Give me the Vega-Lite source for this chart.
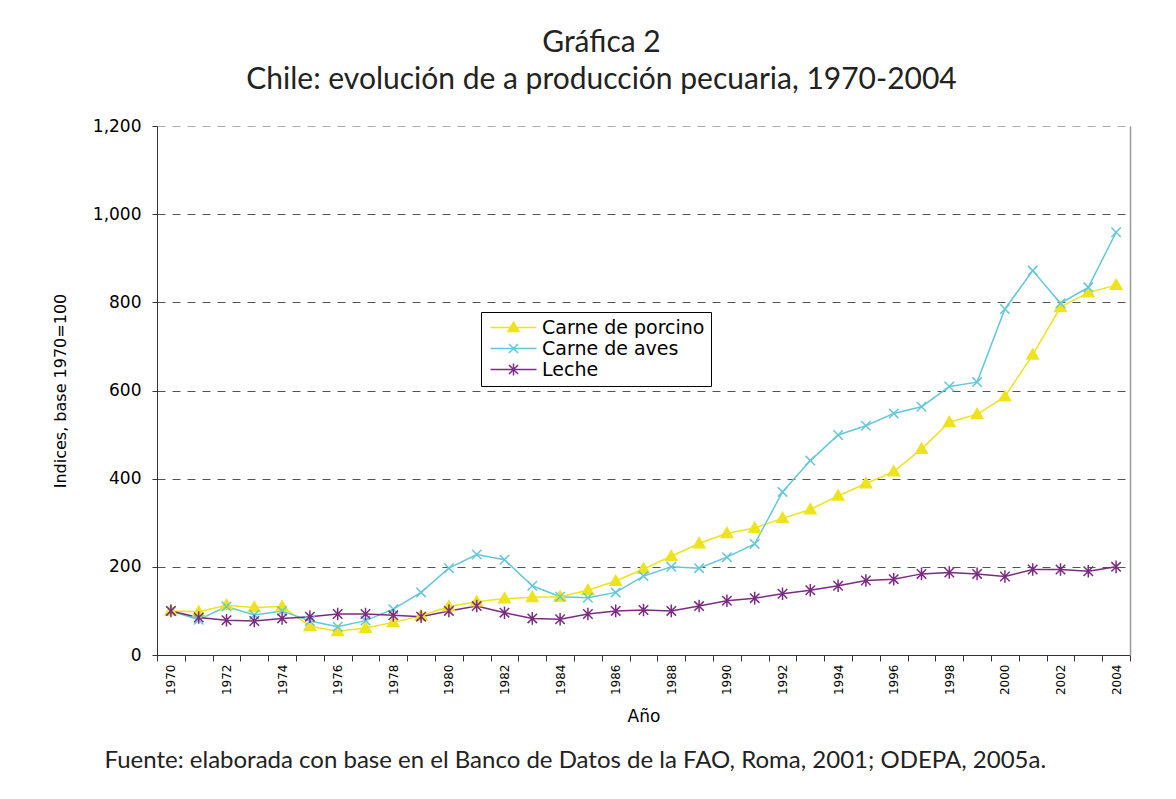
{
  "$schema": "https://vega.github.io/schema/vega-lite/v6.json",
  "autosize": {"type": "none"},
  "padding": {"left": 157, "top": 126, "right": 46, "bottom": 144},
  "width": 973,
  "height": 529,
  "background": "white",
  "config": {"font": "DejaVu Sans", "view": {"stroke": null}},
  "title": {
    "text": ["Gráfica 2", "Chile: evolución de a producción pecuaria, 1970-2004"],
    "font": "Lato", "fontSize": 30, "fontWeight": "normal", "color": "#222",
    "lineHeight": 37, "anchor": "middle", "dx": -42, "offset": 22
  },
  "data": {
    "values": [
      {"year": 1970, "serie": "Carne de porcino", "value": 100},
      {"year": 1971, "serie": "Carne de porcino", "value": 98},
      {"year": 1972, "serie": "Carne de porcino", "value": 113},
      {"year": 1973, "serie": "Carne de porcino", "value": 108},
      {"year": 1974, "serie": "Carne de porcino", "value": 110},
      {"year": 1975, "serie": "Carne de porcino", "value": 65},
      {"year": 1976, "serie": "Carne de porcino", "value": 54},
      {"year": 1977, "serie": "Carne de porcino", "value": 61},
      {"year": 1978, "serie": "Carne de porcino", "value": 74},
      {"year": 1979, "serie": "Carne de porcino", "value": 89},
      {"year": 1980, "serie": "Carne de porcino", "value": 110},
      {"year": 1981, "serie": "Carne de porcino", "value": 121},
      {"year": 1982, "serie": "Carne de porcino", "value": 128},
      {"year": 1983, "serie": "Carne de porcino", "value": 131},
      {"year": 1984, "serie": "Carne de porcino", "value": 132},
      {"year": 1985, "serie": "Carne de porcino", "value": 147},
      {"year": 1986, "serie": "Carne de porcino", "value": 168},
      {"year": 1987, "serie": "Carne de porcino", "value": 195},
      {"year": 1988, "serie": "Carne de porcino", "value": 224},
      {"year": 1989, "serie": "Carne de porcino", "value": 253},
      {"year": 1990, "serie": "Carne de porcino", "value": 276},
      {"year": 1991, "serie": "Carne de porcino", "value": 288},
      {"year": 1992, "serie": "Carne de porcino", "value": 310},
      {"year": 1993, "serie": "Carne de porcino", "value": 330},
      {"year": 1994, "serie": "Carne de porcino", "value": 361},
      {"year": 1995, "serie": "Carne de porcino", "value": 389},
      {"year": 1996, "serie": "Carne de porcino", "value": 416},
      {"year": 1997, "serie": "Carne de porcino", "value": 467},
      {"year": 1998, "serie": "Carne de porcino", "value": 528},
      {"year": 1999, "serie": "Carne de porcino", "value": 546},
      {"year": 2000, "serie": "Carne de porcino", "value": 586},
      {"year": 2001, "serie": "Carne de porcino", "value": 681},
      {"year": 2002, "serie": "Carne de porcino", "value": 789},
      {"year": 2003, "serie": "Carne de porcino", "value": 822},
      {"year": 2004, "serie": "Carne de porcino", "value": 839},
      {"year": 1970, "serie": "Carne de aves", "value": 100},
      {"year": 1971, "serie": "Carne de aves", "value": 80},
      {"year": 1972, "serie": "Carne de aves", "value": 110},
      {"year": 1973, "serie": "Carne de aves", "value": 91},
      {"year": 1974, "serie": "Carne de aves", "value": 100},
      {"year": 1975, "serie": "Carne de aves", "value": 77},
      {"year": 1976, "serie": "Carne de aves", "value": 64},
      {"year": 1977, "serie": "Carne de aves", "value": 78},
      {"year": 1978, "serie": "Carne de aves", "value": 104},
      {"year": 1979, "serie": "Carne de aves", "value": 142},
      {"year": 1980, "serie": "Carne de aves", "value": 197},
      {"year": 1981, "serie": "Carne de aves", "value": 228},
      {"year": 1982, "serie": "Carne de aves", "value": 216},
      {"year": 1983, "serie": "Carne de aves", "value": 157},
      {"year": 1984, "serie": "Carne de aves", "value": 132},
      {"year": 1985, "serie": "Carne de aves", "value": 130},
      {"year": 1986, "serie": "Carne de aves", "value": 142},
      {"year": 1987, "serie": "Carne de aves", "value": 179},
      {"year": 1988, "serie": "Carne de aves", "value": 200},
      {"year": 1989, "serie": "Carne de aves", "value": 197},
      {"year": 1990, "serie": "Carne de aves", "value": 222},
      {"year": 1991, "serie": "Carne de aves", "value": 252},
      {"year": 1992, "serie": "Carne de aves", "value": 370},
      {"year": 1993, "serie": "Carne de aves", "value": 441},
      {"year": 1994, "serie": "Carne de aves", "value": 499},
      {"year": 1995, "serie": "Carne de aves", "value": 520},
      {"year": 1996, "serie": "Carne de aves", "value": 548},
      {"year": 1997, "serie": "Carne de aves", "value": 563},
      {"year": 1998, "serie": "Carne de aves", "value": 609},
      {"year": 1999, "serie": "Carne de aves", "value": 619},
      {"year": 2000, "serie": "Carne de aves", "value": 785},
      {"year": 2001, "serie": "Carne de aves", "value": 872},
      {"year": 2002, "serie": "Carne de aves", "value": 798},
      {"year": 2003, "serie": "Carne de aves", "value": 834},
      {"year": 2004, "serie": "Carne de aves", "value": 959},
      {"year": 1970, "serie": "Leche", "value": 100},
      {"year": 1971, "serie": "Leche", "value": 85},
      {"year": 1972, "serie": "Leche", "value": 79},
      {"year": 1973, "serie": "Leche", "value": 77},
      {"year": 1974, "serie": "Leche", "value": 83},
      {"year": 1975, "serie": "Leche", "value": 87},
      {"year": 1976, "serie": "Leche", "value": 93},
      {"year": 1977, "serie": "Leche", "value": 93},
      {"year": 1978, "serie": "Leche", "value": 90},
      {"year": 1979, "serie": "Leche", "value": 87},
      {"year": 1980, "serie": "Leche", "value": 100},
      {"year": 1981, "serie": "Leche", "value": 111},
      {"year": 1982, "serie": "Leche", "value": 96},
      {"year": 1983, "serie": "Leche", "value": 83},
      {"year": 1984, "serie": "Leche", "value": 81},
      {"year": 1985, "serie": "Leche", "value": 93},
      {"year": 1986, "serie": "Leche", "value": 100},
      {"year": 1987, "serie": "Leche", "value": 102},
      {"year": 1988, "serie": "Leche", "value": 100},
      {"year": 1989, "serie": "Leche", "value": 111},
      {"year": 1990, "serie": "Leche", "value": 123},
      {"year": 1991, "serie": "Leche", "value": 129},
      {"year": 1992, "serie": "Leche", "value": 139},
      {"year": 1993, "serie": "Leche", "value": 147},
      {"year": 1994, "serie": "Leche", "value": 157},
      {"year": 1995, "serie": "Leche", "value": 169},
      {"year": 1996, "serie": "Leche", "value": 172},
      {"year": 1997, "serie": "Leche", "value": 184},
      {"year": 1998, "serie": "Leche", "value": 187},
      {"year": 1999, "serie": "Leche", "value": 184},
      {"year": 2000, "serie": "Leche", "value": 178},
      {"year": 2001, "serie": "Leche", "value": 194},
      {"year": 2002, "serie": "Leche", "value": 194},
      {"year": 2003, "serie": "Leche", "value": 190},
      {"year": 2004, "serie": "Leche", "value": 200}
    ]
  },
  "layer": [
    {
      "mark": {"type": "line", "strokeWidth": 1.5},
      "encoding": {
        "x": {
          "field": "year", "type": "ordinal", "bandPosition": 0.5,
          "scale": {"type": "band", "paddingInner": 0, "paddingOuter": 0},
          "axis": {
            "title": "Año", "tickBand": "extent", "labelAngle": 270, "labelOverlap": false,
            "labelExpr": "datum.value % 2 === 0 ? datum.label : ''",
            "labelFont": "DejaVu Sans", "labelFontSize": 12, "labelColor": "#000", "labelPadding": 3,
            "tickSize": 6, "tickColor": "#333", "domainColor": "#333", "grid": false,
            "titleFont": "DejaVu Sans", "titleFontSize": 17, "titleFontWeight": "normal",
            "titleColor": "#000", "titlePadding": 14
          }
        },
        "y": {
          "field": "value", "type": "quantitative",
          "scale": {"domain": [0, 1200]},
          "axis": {
            "title": "Indices, base 1970=100",
            "values": [0, 200, 400, 600, 800, 1000, 1200], "format": ",d",
            "labelFont": "DejaVu Sans", "labelFontSize": 17, "labelColor": "#000", "labelPadding": 11,
            "tickSize": 5, "tickColor": "#333", "domainColor": "#333",
            "grid": true, "gridDash": [8, 7], "gridWidth": 1,
            "gridColor": {"condition": {"test": "datum.value === 1200", "value": "#aaa"}, "value": "#555"},
            "titleFont": "DejaVu Sans", "titleFontSize": 16, "titleFontWeight": "normal",
            "titleColor": "#000", "titlePadding": 24
          }
        },
        "stroke": {
          "field": "serie", "type": "nominal",
          "scale": {
            "domain": ["Carne de porcino", "Carne de aves", "Leche", " "],
            "range": ["#EEE31C", "#63C7DA", "#7B2C82", "#000000"]
          },
          "legend": {
            "title": null, "orient": "none", "legendX": 324, "legendY": 186,
            "values": ["Carne de porcino", "Carne de aves", "Leche"],
            "strokeColor": "#000", "padding": 6,
            "labelFont": "DejaVu Sans", "labelFontSize": 19, "labelColor": "#000", "labelLimit": 400,
            "symbolType": "M-4.6,0L4.6,0", "symbolSize": 100, "symbolStrokeWidth": 1.5,
            "symbolOffset": 17, "labelOffset": 19, "rowPadding": 1
          }
        }
      }
    },
    {
      "mark": {"type": "point", "filled": false, "strokeWidth": 1.5, "opacity": 1, "size": 110},
      "encoding": {
        "x": {
          "field": "year", "type": "ordinal", "bandPosition": 0.5,
          "scale": {"type": "band", "paddingInner": 0, "paddingOuter": 0},
          "axis": {
            "orient": "bottom", "labels": false, "ticks": false, "domain": false, "grid": false,
            "title": "Fuente: elaborada con base en el Banco de Datos de la FAO, Roma, 2001; ODEPA, 2005a.",
            "titleFont": "Lato", "titleFontSize": 24, "titleFontWeight": "normal", "titleColor": "#222",
            "titleAnchor": "start", "titleAlign": "left", "titleBaseline": "alphabetic",
            "titleX": -53, "titleY": 112
          }
        },
        "y": {
          "field": "value", "type": "quantitative",
          "scale": {"domain": [0, 1200]},
          "axis": {
            "orient": "right", "labels": false, "ticks": false, "grid": false, "title": null,
            "domainColor": "#999", "domainWidth": 1.5
          }
        },
        "color": {
          "field": "serie", "type": "nominal",
          "scale": {
            "domain": ["Carne de porcino", "Carne de aves", "Leche"],
            "range": ["#EEE31C", "#63C7DA", "#7B2C82"]
          },
          "legend": {
            "title": null, "orient": "none", "legendX": 324, "legendY": 186,
            "padding": 6, "labelExpr": "''", "labelFont": "DejaVu Sans", "labelFontSize": 19,
            "symbolSize": 100, "symbolStrokeWidth": 1.5, "symbolOffset": 17, "labelOffset": 19,
            "rowPadding": 1
          }
        },
        "shape": {
          "field": "serie", "type": "nominal", "legend": null,
          "scale": {
            "domain": ["Carne de porcino", "Carne de aves", "Leche"],
            "range": ["M-1.1,0.8L1.1,0.8L0,-1.1Z", "M-0.9,-0.9L0.9,0.9M-0.9,0.9L0.9,-0.9", "M-0.9,-0.9L0.9,0.9M-0.9,0.9L0.9,-0.9M0,-1.2L0,1.2"]
          }
        },
        "fill": {
          "field": "serie", "type": "nominal", "legend": null,
          "scale": {
            "domain": ["Carne de porcino", "Carne de aves", "Leche"],
            "range": ["#EEE31C", "transparent", "transparent"]
          }
        }
      }
    }
  ],
  "resolve": {"axis": {"x": "independent", "y": "independent"}}
}
